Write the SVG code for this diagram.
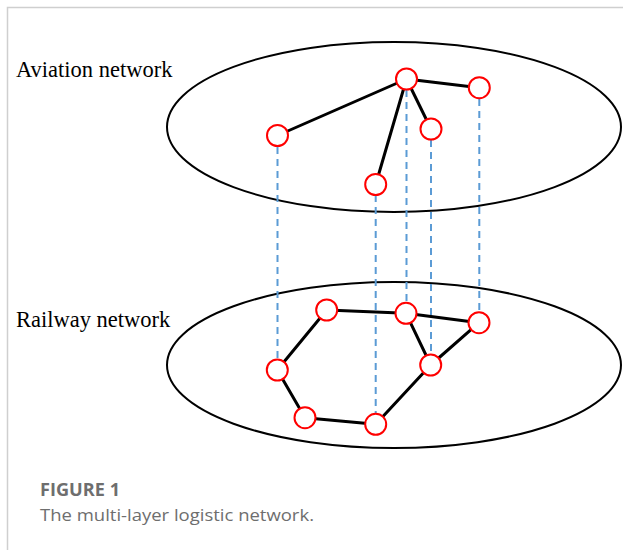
<svg xmlns="http://www.w3.org/2000/svg" width="623" height="550" viewBox="0 0 623 550">
<style>
.frame{stroke:#cfcfcf;stroke-width:1.5;fill:none}
.layer{fill:none;stroke:#000;stroke-width:2}
.edge{stroke:#000;stroke-width:3;stroke-linecap:round}
.link{stroke:#5b9bd5;stroke-width:2;stroke-dasharray:7,5}
.node{fill:#fff;stroke:#ff0000;stroke-width:2}
.lbl{font-family:"Liberation Serif","Times New Roman",serif;font-size:22.5px;fill:#000}
.cap1{font-family:"Open Sans",Lato,sans-serif;font-size:17px;font-weight:bold;fill:#6e6e6e}
.cap2{font-family:"Open Sans",Lato,sans-serif;font-size:17px;fill:#6e6e6e}
</style>
<rect width="623" height="550" fill="#fff"/>
<path class="frame" d="M7.5,550 V7.5 H623"/>
<g id="layers">
<ellipse class="layer" cx="394" cy="127" rx="227" ry="85"/>
<ellipse class="layer" cx="394" cy="365" rx="227" ry="83"/>
</g>
<g id="labels">
<text class="lbl" x="16" y="77">Aviation network</text>
<text class="lbl" x="16" y="327">Railway network</text>
</g>
<g id="connectors">
<line class="link" x1="277.5" y1="147" x2="277.5" y2="359"/>
<line class="link" x1="375.7" y1="195" x2="375.7" y2="413"/>
<line class="link" x1="406.5" y1="90" x2="406.5" y2="302"/>
<line class="link" x1="431" y1="140" x2="431" y2="354"/>
<line class="link" x1="479.3" y1="99" x2="479.3" y2="312"/>
<line class="edge" x1="406.5" y1="79" x2="277.5" y2="135.5"/>
<line class="edge" x1="406.5" y1="79" x2="375.7" y2="184.5"/>
<line class="edge" x1="406.5" y1="79" x2="431" y2="129"/>
<line class="edge" x1="406.5" y1="79" x2="479.3" y2="87.7"/>
<line class="edge" x1="326.7" y1="310" x2="406" y2="313.3"/>
<line class="edge" x1="406" y1="313.3" x2="479" y2="322.7"/>
<line class="edge" x1="406" y1="313.3" x2="430.7" y2="365"/>
<line class="edge" x1="479" y1="322.7" x2="430.7" y2="365"/>
<line class="edge" x1="326.7" y1="310" x2="277.3" y2="370"/>
<line class="edge" x1="277.3" y1="370" x2="305" y2="417.7"/>
<line class="edge" x1="305" y1="417.7" x2="375.7" y2="424.3"/>
<line class="edge" x1="375.7" y1="424.3" x2="430.7" y2="365"/>
</g>
<g id="a1"><circle class="node" cx="406.5" cy="79" r="10.5"/></g>
<g id="a2"><circle class="node" cx="479.3" cy="87.7" r="10.5"/></g>
<g id="a3"><circle class="node" cx="277.5" cy="135.5" r="10.5"/></g>
<g id="a4"><circle class="node" cx="431" cy="129" r="10.5"/></g>
<g id="a5"><circle class="node" cx="375.7" cy="184.5" r="10.5"/></g>
<g id="r1"><circle class="node" cx="326.7" cy="310" r="10.5"/></g>
<g id="r2"><circle class="node" cx="406" cy="313.3" r="10.5"/></g>
<g id="r3"><circle class="node" cx="479" cy="322.7" r="10.5"/></g>
<g id="r4"><circle class="node" cx="430.7" cy="365" r="10.5"/></g>
<g id="r5"><circle class="node" cx="277.3" cy="370" r="10.5"/></g>
<g id="r6"><circle class="node" cx="305" cy="417.7" r="10.5"/></g>
<g id="r7"><circle class="node" cx="375.7" cy="424.3" r="10.5"/></g>
<g id="caption">
<text class="cap1" x="40" y="496" textLength="80" lengthAdjust="spacingAndGlyphs">FIGURE 1</text>
<text class="cap2" x="40" y="521" textLength="274" lengthAdjust="spacingAndGlyphs">The multi-layer logistic network.</text>
</g>
</svg>
